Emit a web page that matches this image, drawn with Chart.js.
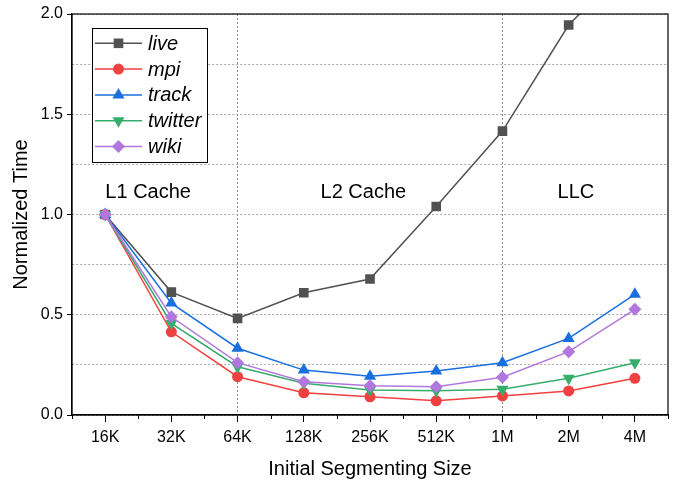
<!DOCTYPE html>
<html>
<head>
<meta charset="utf-8">
<script src="https://cdn.jsdelivr.net/npm/chart.js@4/dist/chart.umd.min.js"></script>
<style>
  html, body { margin: 0; padding: 0; background: #fff; }
  #wrap { width: 676px; height: 482px; position: relative; }
</style>
</head>
<body>
<div id="wrap"><canvas id="c"></canvas></div>
<script>
// ---- data ----
const categories = ['16K', '32K', '64K', '128K', '256K', '512K', '1M', '2M', '4M'];
const seriesNames = ['live', 'mpi', 'track', 'twitter', 'wiki'];
const live    = [1.0, 0.613, 0.482, 0.610, 0.678, 1.040, 1.416, 1.945, 2.28];
const mpi     = [1.0, 0.415, 0.191, 0.111, 0.091, 0.071, 0.095, 0.120, 0.183];
const track   = [1.0, 0.558, 0.333, 0.224, 0.193, 0.219, 0.261, 0.382, 0.602];
const twitter = [1.0, 0.457, 0.241, 0.158, 0.125, 0.121, 0.128, 0.183, 0.261];
const wiki    = [1.0, 0.490, 0.261, 0.166, 0.146, 0.141, 0.188, 0.316, 0.527];
const yTickLabels = ['0.0', '0.5', '1.0', '1.5', '2.0'];
const regionLabels = ['L1 Cache', 'L2 Cache', 'LLC'];
const boundaryCategories = ['64K', '1M'];

const FONT = "'Liberation Sans', Arial, sans-serif";
const styles = [
  { color: '#515151', pointStyle: 'rect', radius: 6.8, rotation: 0 },
  { color: '#F14040', pointStyle: 'circle', radius: 5.5, rotation: 0 },
  { color: '#1A6FDF', pointStyle: 'triangle', radius: 7, rotation: 0 },
  { color: '#37AD6B', pointStyle: 'triangle', radius: 7, rotation: 180 },
  { color: '#B177DE', pointStyle: 'rectRot', radius: 6.5, rotation: 0 }
];
const allSeries = [live, mpi, track, twitter, wiki];

const datasets = allSeries.map((vals, i) => ({
  label: seriesNames[i],
  data: vals,
  borderColor: styles[i].color,
  backgroundColor: styles[i].color,
  pointBackgroundColor: styles[i].color,
  pointBorderColor: styles[i].color,
  pointBorderWidth: 0,
  pointStyle: styles[i].pointStyle,
  pointRadius: styles[i].radius,
  pointHoverRadius: styles[i].radius,
  pointRotation: styles[i].rotation,
  borderWidth: 1.5,
  tension: 0,
  fill: false,
  order: 5 - i
}));

function drawMarker(ctx, style, radius, rotation, x, y, color) {
  ctx.save();
  ctx.fillStyle = color;
  ctx.beginPath();
  const rad = rotation * Math.PI / 180;
  if (style === 'circle') {
    ctx.arc(x, y, radius, 0, Math.PI * 2);
  } else if (style === 'rect') {
    const s = Math.SQRT1_2 * radius;
    ctx.rect(x - s, y - s, 2 * s, 2 * s);
  } else if (style === 'triangle') {
    let a = rad;
    ctx.moveTo(x + Math.sin(a) * radius, y - Math.cos(a) * radius);
    a += 2 * Math.PI / 3;
    ctx.lineTo(x + Math.sin(a) * radius, y - Math.cos(a) * radius);
    a += 2 * Math.PI / 3;
    ctx.lineTo(x + Math.sin(a) * radius, y - Math.cos(a) * radius);
  } else if (style === 'rectRot') {
    ctx.moveTo(x - radius, y);
    ctx.lineTo(x, y - radius);
    ctx.lineTo(x + radius, y);
    ctx.lineTo(x, y + radius);
  }
  ctx.closePath();
  ctx.fill();
  ctx.restore();
}

const decorPlugin = {
  id: 'decor',
  beforeDatasetsDraw(chart) {
    // region labels
    const ctx = chart.ctx;
    const xs = chart.scales.x, ys = chart.scales.y;
    const pos = [0.65, 3.9, 7.11];
    ctx.save();
    ctx.font = '20px ' + FONT;
    ctx.fillStyle = '#000';
    ctx.textAlign = 'center';
    ctx.textBaseline = 'alphabetic';
    regionLabels.forEach((t, i) => {
      ctx.fillText(t, xs.getPixelForValue(pos[i]), ys.getPixelForValue(1.08));
    });
    ctx.restore();
  },
  afterDraw(chart) {
    const ctx = chart.ctx;
    const a = chart.chartArea;
    const xs = chart.scales.x;
    ctx.save();
    // frame
    ctx.strokeStyle = '#000';
    ctx.lineWidth = 1.2;
    ctx.strokeRect(a.left, a.top, a.right - a.left, a.bottom - a.top);
    // minor x ticks at category boundaries
    ctx.lineWidth = 1;
    const step = xs.getPixelForValue(1) - xs.getPixelForValue(0);
    for (let i = 0; i <= categories.length; i++) {
      const px = Math.round(xs.getPixelForValue(i - 0.5)) + 0.5;
      ctx.beginPath();
      ctx.moveTo(px, a.bottom);
      ctx.lineTo(px, a.bottom + 4);
      ctx.stroke();
    }
    // legend box
    const bx = 92, by = 28, bw = 115, bh = 134;
    ctx.fillStyle = '#fff';
    ctx.fillRect(bx, by, bw, bh);
    ctx.strokeStyle = '#000';
    ctx.lineWidth = 1;
    ctx.strokeRect(bx + 0.5, by + 0.5, bw, bh);
    chart.data.datasets.forEach((ds, i) => {
      const y = 43.3 + i * 25.8;
      ctx.strokeStyle = styles[i].color;
      ctx.lineWidth = 1.5;
      ctx.beginPath();
      ctx.moveTo(95, y);
      ctx.lineTo(142, y);
      ctx.stroke();
      drawMarker(ctx, styles[i].pointStyle, styles[i].radius, styles[i].rotation, 118.5, y, styles[i].color);
      ctx.fillStyle = '#000';
      ctx.font = 'italic 20px ' + FONT;
      ctx.textAlign = 'left';
      ctx.textBaseline = 'middle';
      ctx.fillText(ds.label, 148, y + 1);
    });
    ctx.restore();
  }
};

new Chart(document.getElementById('c'), {
  type: 'line',
  data: { labels: categories, datasets },
  plugins: [decorPlugin],
  options: {
    responsive: true,
    maintainAspectRatio: false,
    animation: false,
    layout: { padding: { left: 0, right: 8, top: 14, bottom: 0 } },
    plugins: { legend: { display: false }, tooltip: { enabled: false } },
    scales: {
      x: {
        type: 'category',
        offset: true,
        afterFit: s => { s.height = 67; },
        grid: {
          display: true,
          drawOnChartArea: true,
          drawTicks: true,
          tickLength: 7,
          tickColor: '#000',
          tickWidth: 1,
          lineWidth: 1,
          color: c => (c.tick && boundaryCategories.includes(categories[c.index])) ? '#8a8a8a' : 'rgba(0,0,0,0)'
        },
        border: { display: true, color: '#000', width: 1.2, dash: [2, 2] },
        ticks: { color: '#000', font: { family: FONT, size: 16 }, padding: 6, autoSkip: false, maxRotation: 0 },
        title: { display: true, text: 'Initial Segmenting Size', color: '#000', font: { family: FONT, size: 20 }, padding: { top: 0, bottom: 1 } }
      },
      y: {
        min: 0,
        max: 2,
        afterFit: s => { s.width = 72; },
        afterBuildTicks: s => { s.ticks = []; for (let v = 0; v <= 8; v++) s.ticks.push({ value: v * 0.25 }); },
        grid: {
          display: true,
          drawTicks: true,
          tickLength: 5,
          lineWidth: 1,
          color: '#a8a8a8',
          tickColor: c => (c.tick && Math.abs(c.tick.value * 2 - Math.round(c.tick.value * 2)) < 1e-6) ? '#000' : 'rgba(0,0,0,0)'
        },
        border: { display: true, color: '#000', width: 1.2, dash: [2, 2] },
        ticks: {
          color: '#000',
          font: { family: FONT, size: 16 },
          padding: 4,
          callback: (v) => {
            const k = Math.round(v * 2);
            return Math.abs(v * 2 - k) < 1e-6 ? yTickLabels[k] : '';
          }
        },
        title: { display: true, text: 'Normalized Time', color: '#000', font: { family: FONT, size: 20 }, padding: { top: 9, bottom: 0 } }
      }
    }
  }
});
</script>
</body>
</html>
